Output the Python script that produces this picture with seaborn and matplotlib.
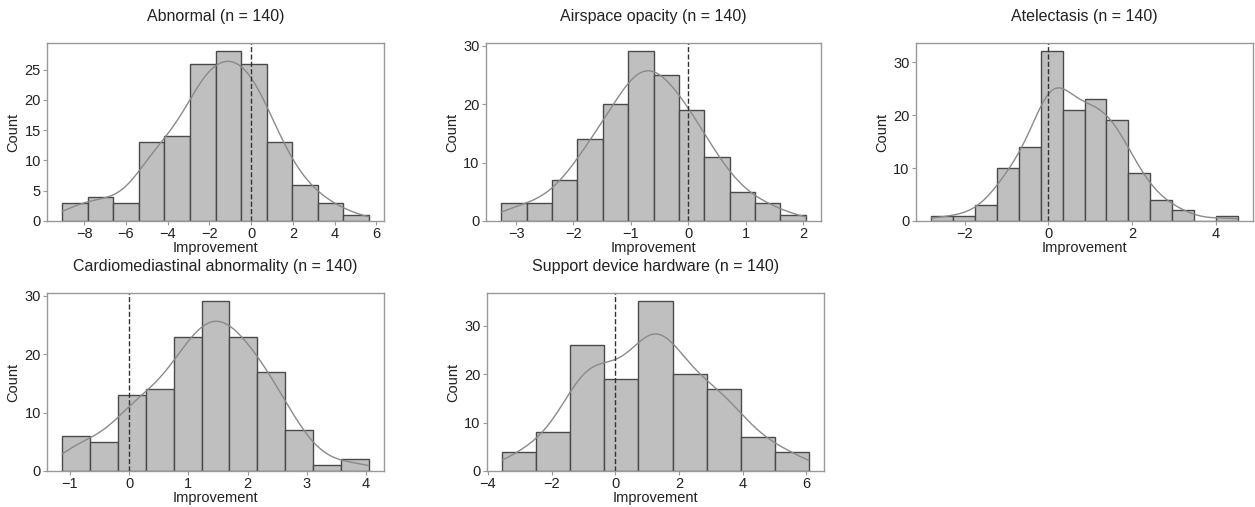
import numpy as np
import pandas as pd
import matplotlib
matplotlib.use("Agg")
import matplotlib.pyplot as plt
from matplotlib.ticker import MultipleLocator
import seaborn as sns

titles = ["Abnormal (n = 140)", "Airspace opacity (n = 140)", "Atelectasis (n = 140)",
          "Cardiomediastinal abnormality (n = 140)", "Support device hardware (n = 140)"]

abnormal_range = (-9.05, 5.63)
abnormal_counts = [3, 4, 3, 13, 14, 26, 28, 26, 13, 6, 3, 1]

airspace_range = (-3.26, 2.05)
airspace_counts = [3, 3, 7, 14, 20, 29, 25, 19, 11, 5, 3, 1]

atelectasis_range = (-2.805, 4.53)
atelectasis_counts = [1, 1, 3, 10, 14, 32, 21, 23, 19, 9, 4, 2, 0, 1]

cardio_range = (-1.127, 4.045)
cardio_counts = [6, 5, 13, 14, 23, 29, 23, 17, 7, 1, 2]

support_range = (-3.55, 6.08)
support_counts = [4, 8, 26, 19, 35, 20, 17, 7, 4]

xtick_steps = [2, 1, 2, 1, 2]

panels = [
    (abnormal_range, abnormal_counts),
    (airspace_range, airspace_counts),
    (atelectasis_range, atelectasis_counts),
    (cardio_range, cardio_counts),
    (support_range, support_counts),
]

sns.set_theme(style="ticks")
plt.rcParams['font.family'] = ['Liberation Sans', 'DejaVu Sans']

fig = plt.figure(figsize=(12.55, 5.07), dpi=100)
W, H = 1255.0, 507.0
boxes = [
    (47, 43, 384, 221), (486, 43, 821, 221), (916, 43, 1253, 221),
    (47, 293, 384, 471), (487, 293, 824, 471),
]

spine_col = "#999999"
text_col = "#222222"
for (rng, counts), title, (x0, y0, x1, y1), step in zip(panels, titles, boxes, xtick_steps):
    ax = fig.add_axes([x0 / W, 1 - y1 / H, (x1 - x0) / W, (y1 - y0) / H])
    edges = np.linspace(rng[0], rng[1], len(counts) + 1)
    centers = (edges[:-1] + edges[1:]) / 2
    w = np.asarray(counts, dtype=float)
    n = w.sum()
    neff = n ** 2 / (w ** 2).sum()
    # bandwidth as if computed on n raw observations
    bw_adj = (neff / n) ** 0.2 * 0.95
    df = pd.DataFrame({"Improvement": centers, "w": w})
    sns.histplot(data=df, x="Improvement", weights="w", bins=list(edges), kde=True, ax=ax,
                 color="#8a8a8a", alpha=1, facecolor="#bfbfbf", edgecolor="#4a4a4a",
                 linewidth=1.0, line_kws=dict(linewidth=1.0),
                 kde_kws=dict(bw_adjust=bw_adj, cut=3, clip=(rng[0], rng[1])))
    ax.set_xlim(rng[0] - 0.05 * (rng[1] - rng[0]), rng[1] + 0.05 * (rng[1] - rng[0]))
    ax.axvline(0, color="#333333", linestyle="--", linewidth=1.0)
    ax.xaxis.set_major_locator(MultipleLocator(step))
    ax.set_title(title, fontsize=11.5, color=text_col, pad=16)
    ax.set_xlabel("Improvement", fontsize=10.5, color=text_col, labelpad=0)
    ax.set_ylabel("Count", fontsize=10.5, color=text_col, labelpad=3)
    ax.tick_params(labelsize=10.5, colors=spine_col, labelcolor=text_col, length=3, width=0.8, pad=1.5)
    for s in ax.spines.values():
        s.set_visible(True)
        s.set_color(spine_col)
        s.set_linewidth(1.0)

fig.savefig("out.png", dpi=100)
